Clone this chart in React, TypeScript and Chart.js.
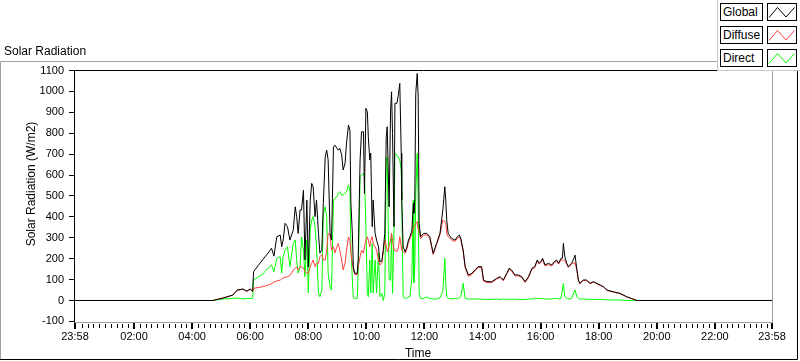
import React, { useEffect, useRef } from 'react';
import { Chart, registerables } from 'chart.js';

Chart.register(...registerables);

const FONT = '"Liberation Sans", Arial, sans-serif';

// time in minutes after midnight
const minutes = [
  -2, 283, 304, 324, 333, 345, 353, 360, 365, 367, 376, 386, 397, 404, 409, 415, 422, 425, 428, 432,
  437, 442, 449, 453, 456, 459, 463, 466, 470, 473, 477, 480, 484, 487, 490, 494, 497, 501, 504, 508,
  511, 515, 518, 521, 525, 528, 532, 535, 539, 542, 545, 549, 552, 556, 559, 563, 566, 568, 571, 573,
  576, 581, 583, 587, 590, 594, 596, 599, 602, 604, 607, 609, 612, 614, 618, 621, 625, 628, 632, 635,
  638, 641, 643, 647, 650, 652, 654, 657, 659, 663, 666, 669, 672, 673, 676, 680, 683, 687, 690, 694,
  697, 698, 700, 702, 705, 707, 709, 712, 718, 725, 731, 738, 745, 752, 758, 762, 764, 766, 769, 776,
  783, 788, 792, 795, 800, 804, 811, 818, 824, 831, 838, 842, 849, 859, 869, 876, 883, 890, 895, 900,
  907, 914, 921, 928, 935, 942, 948, 953, 957, 960, 964, 969, 976, 983, 988, 993, 997, 1002, 1005, 1007,
  1010, 1014, 1017, 1024, 1029, 1031, 1035, 1038, 1041, 1048, 1055, 1062, 1069, 1076, 1083, 1090, 1097, 1110, 1124, 1138,
  1152, 1159, 1438,
];

const globalRad = [
  0, 0, 12, 26, 50, 55, 45, 55, 45, 138, 166, 196, 227, 250, 213, 305, 313, 257, 289, 369,
  353, 289, 337, 448, 401, 321, 433, 433, 528, 194, 480, 160, 480, 560, 544, 401, 480, 321, 226, 240,
  465, 687, 719, 672, 321, 289, 735, 743, 728, 719, 728, 696, 624, 657, 753, 839, 815, 466, 323, 162,
  130, 130, 194, 672, 807, 807, 512, 919, 902, 783, 672, 705, 353, 480, 321, 289, 257, 185, 190, 245,
  321, 783, 831, 448, 911, 998, 799, 353, 943, 943, 982, 1038, 704, 480, 257, 233, 250, 289, 305, 335,
  465, 417, 480, 990, 1086, 974, 369, 305, 321, 321, 305, 226, 273, 321, 433, 544, 480, 385, 321, 297,
  289, 305, 313, 297, 241, 162, 122, 130, 146, 162, 162, 98, 90, 90, 106, 114, 98, 130, 154, 146,
  122, 122, 114, 90, 114, 154, 162, 194, 178, 185, 202, 170, 178, 170, 185, 194, 178, 202, 203, 273,
  209, 178, 162, 178, 203, 217, 146, 98, 82, 98, 98, 82, 90, 82, 74, 66, 50, 42, 34, 18,
  6, 0, 0,
];

const diffuseRad = [
  0, 0, 12, 25, 48, 54, 43, 53, 42, 58, 62, 66, 74, 80, 88, 93, 98, 103, 108, 111,
  114, 119, 146, 154, 160, 146, 162, 162, 155, 138, 130, 130, 162, 178, 194, 162, 178, 178, 209, 220,
  194, 194, 241, 321, 313, 241, 257, 227, 257, 273, 241, 194, 146, 179, 241, 304, 289, 227, 179, 146,
  125, 122, 162, 209, 241, 226, 257, 289, 305, 289, 257, 289, 305, 273, 257, 241, 194, 170, 180, 235,
  289, 265, 233, 257, 289, 321, 289, 241, 241, 233, 251, 305, 257, 241, 233, 225, 240, 280, 295, 321,
  344, 353, 361, 369, 377, 337, 337, 295, 313, 313, 297, 220, 267, 314, 385, 377, 370, 321, 305, 290,
  282, 297, 305, 290, 233, 158, 115, 125, 141, 157, 157, 93, 86, 86, 102, 110, 95, 126, 150, 141,
  118, 118, 110, 86, 110, 150, 157, 189, 174, 181, 196, 165, 172, 165, 181, 187, 174, 194, 194, 194,
  190, 174, 158, 174, 180, 180, 143, 95, 80, 95, 95, 80, 88, 80, 72, 64, 48, 40, 33, 17,
  5, 0, 0,
];

const directRad = [
  0, 0, 7, 10, 12, 7, 10, 9, 11, 98, 112, 127, 155, 170, 138, 202, 209, 131, 209, 241,
  257, 162, 273, 289, 194, 131, 162, 305, 241, 114, 290, 36, 337, 385, 401, 353, 257, 36, 18, 50,
  417, 448, 401, 131, 66, 50, 480, 489, 496, 514, 520, 504, 504, 514, 520, 552, 528, 257, 98, 12,
  10, 10, 131, 592, 600, 608, 592, 353, 34, 18, 194, 36, 273, 36, 194, 36, 226, 18, 34, 0,
  34, 672, 687, 98, 98, 321, 34, 323, 704, 696, 687, 672, 624, 480, 18, 10, 10, 18, 18, 114,
  480, 84, 162, 514, 704, 480, 34, 10, 10, 17, 10, 7, 7, 13, 45, 202, 82, 18, 10, 7,
  10, 10, 13, 18, 82, 10, 7, 7, 7, 7, 7, 5, 5, 5, 7, 5, 7, 5, 7, 5,
  7, 5, 5, 5, 7, 7, 10, 10, 10, 7, 10, 7, 7, 7, 10, 10, 7, 10, 50, 82,
  18, 10, 7, 10, 40, 50, 17, 10, 7, 7, 7, 5, 5, 5, 5, 5, 3, 3, 2, 0,
  0, 0, 0,
];

const seriesNames = ['Global', 'Diffuse', 'Direct'];
const seriesColors = ['#000000', '#ff4040', '#00ff00'];
const seriesValues = [globalRad, diffuseRad, directRad];

const xMin = -2;
const xMax = 1438;
const majorTickMinutes = [-2, 120, 240, 360, 480, 600, 720, 840, 960, 1080, 1200, 1320, 1438];
const majorTickLabels = ['23:58', '02:00', '04:00', '06:00', '08:00', '10:00', '12:00', '14:00', '16:00', '18:00', '20:00', '22:00', '23:58'];
const minorTickStep = 12;

const yMin = -100;
const yMax = 1100;
const yStep = 100;

const chartTitle = 'Solar Radiation';
const yAxisTitle = 'Solar Radiation (W/m2)';
const xAxisTitle = 'Time';

const decorPlugin = {
  id: 'decor',
  afterDraw(chart: any) {
    const { ctx, chartArea: a, scales } = chart;
    const xs = scales.x;
    ctx.save();
    ctx.lineWidth = 1;

    // outer frame
    ctx.strokeStyle = '#a0a0a0';
    ctx.beginPath();
    ctx.moveTo(0.5, 360);
    ctx.lineTo(0.5, 61.5);
    ctx.lineTo(798, 61.5);
    ctx.stroke();
    ctx.strokeStyle = '#000';
    ctx.beginPath();
    ctx.moveTo(0, 359.5);
    ctx.lineTo(797.5, 359.5);
    ctx.lineTo(797.5, 61);
    ctx.stroke();

    // plot frame
    const L = Math.round(a.left) - 0.5;
    const T = Math.floor(a.top) + 0.5;
    const R = Math.round(a.right) + 0.5;
    const B = Math.ceil(a.bottom) + 0.5;
    ctx.strokeStyle = '#a0a0a0';
    ctx.beginPath();
    ctx.moveTo(L, B);
    ctx.lineTo(R, B);
    ctx.lineTo(R, T);
    ctx.stroke();
    ctx.strokeStyle = '#000';
    ctx.beginPath();
    ctx.moveTo(L, B);
    ctx.lineTo(L, T);
    ctx.lineTo(R, T);
    ctx.stroke();

    // x tick marks
    ctx.fillStyle = '#000';
    const tickTop = Math.ceil(a.bottom) + 1;
    for (let m = 0; m <= xMax; m += minorTickStep) {
      if (majorTickMinutes.some((v) => Math.abs(v - m) < 3)) continue;
      const px = Math.round(xs.getPixelForValue(m));
      ctx.fillRect(px, tickTop + 1, 1, 4);
    }
    majorTickMinutes.forEach((v) => {
      const px = Math.round(xs.getPixelForValue(v));
      ctx.fillRect(px - 1, tickTop, 2, 6);
    });

    // titles
    ctx.font = `12px ${FONT}`;
    ctx.fillStyle = '#000';
    ctx.textBaseline = 'alphabetic';
    ctx.textAlign = 'left';
    ctx.fillText(chartTitle, 4, 55);
    ctx.textAlign = 'center';
    ctx.fillText(xAxisTitle, 418, 357);
    ctx.save();
    ctx.translate(35, 184);
    ctx.rotate(-Math.PI / 2);
    ctx.fillText(yAxisTitle, 0, 0);
    ctx.restore();

    ctx.restore();
  },
};

function LegendPanel() {
  return (
    <div
      style={{
        position: 'absolute',
        left: 717,
        top: 0,
        width: 83,
        height: 71,
        background: '#fff',
        borderLeft: '1px solid #c8c8c8',
        borderBottom: '1px solid #c8c8c8',
        boxSizing: 'border-box',
      }}
    >
      {seriesNames.map((name, i) => (
        <React.Fragment key={name}>
          <div
            style={{
              position: 'absolute',
              left: 2,
              top: 3 + 23 * i,
              width: 43,
              height: 18,
              border: '1px solid #000',
              boxSizing: 'border-box',
              background: '#fff',
              color: '#000',
              font: `12px ${FONT}`,
              lineHeight: '16px',
              paddingLeft: 2,
              whiteSpace: 'nowrap',
            }}
          >
            {name}
          </div>
          <svg
            width={30}
            height={18}
            style={{ position: 'absolute', left: 49, top: 3 + 23 * i, display: 'block' }}
          >
            <rect x={0.5} y={0.5} width={29} height={17} fill="#fff" stroke="#000" strokeWidth={1} />
            <polyline
              points="2,14.5 10.5,4.5 19,14 27.5,4.5"
              fill="none"
              stroke={seriesColors[i]}
              strokeWidth={1}
            />
          </svg>
        </React.Fragment>
      ))}
    </div>
  );
}

export default function App() {
  const canvasRef = useRef<HTMLCanvasElement | null>(null);

  useEffect(() => {
    if (!canvasRef.current) return;
    const datasets = seriesNames.map((name, i) => ({
      label: name,
      data: minutes.map((m, k) => ({ x: m, y: seriesValues[i][k] })),
      borderColor: seriesColors[i],
      backgroundColor: seriesColors[i],
      borderWidth: 1,
      pointRadius: 0,
      tension: 0,
      fill: false,
    }));

    const chart = new Chart(canvasRef.current, {
      type: 'line',
      data: { datasets },
      plugins: [decorPlugin],
      options: {
        responsive: false,
        animation: false,
        devicePixelRatio: 1,
        layout: { padding: { top: 70.5, right: 28, bottom: 0, left: 0 } },
        plugins: {
          legend: { display: false },
          tooltip: { enabled: false },
          title: { display: false },
        },
        scales: {
          x: {
            type: 'linear',
            min: xMin,
            max: xMax,
            grid: { display: false, drawTicks: false },
            border: { display: false },
            afterBuildTicks: (scale: any) => {
              scale.ticks = majorTickMinutes.map((v) => ({ value: v }));
            },
            afterFit: (scale: any) => {
              scale.height = 361 - 321.4;
              scale.paddingLeft = 0;
              scale.paddingRight = 0;
            },
            ticks: {
              autoSkip: false,
              maxRotation: 0,
              minRotation: 0,
              padding: 9,
              color: '#000',
              font: { family: FONT, size: 11 },
              callback: (_v: any, index: number) => majorTickLabels[index],
            },
          },
          y: {
            type: 'linear',
            min: yMin,
            max: yMax,
            grid: {
              display: true,
              drawOnChartArea: false,
              drawTicks: true,
              tickLength: 6,
              color: '#000',
              tickColor: '#000',
            },
            border: { display: false },
            afterFit: (scale: any) => {
              scale.width = 75;
              scale.paddingTop = 0;
              scale.paddingBottom = 0;
            },
            ticks: {
              stepSize: yStep,
              padding: 5,
              color: '#000',
              font: { family: FONT, size: 11 },
              callback: (v: any) => String(v),
            },
          },
        },
      },
    });
    return () => chart.destroy();
  }, []);

  return (
    <div style={{ position: 'absolute', left: 0, top: 0, width: 800, height: 361, background: '#fff', overflow: 'hidden' }}>
      <canvas ref={canvasRef} width={800} height={361} style={{ position: 'absolute', left: 0, top: 0, display: 'block' }} />
      <LegendPanel />
    </div>
  );
}
